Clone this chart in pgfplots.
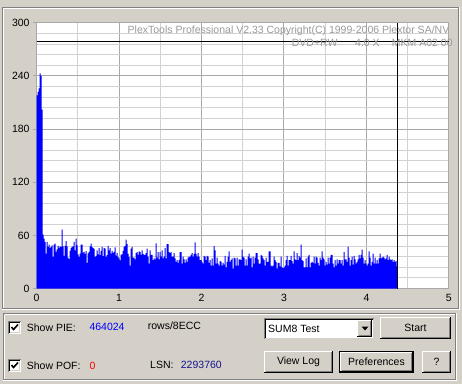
\documentclass[border=0pt]{standalone}
\usepackage{pgfplots}
\pgfplotsset{compat=1.18}
\usepackage{pgfplotstable}
\usepackage{fontspec}
\setmainfont{Liberation Sans}
\definecolor{winbg}{HTML}{D4D0C8}
\definecolor{wdark}{HTML}{808080}
\definecolor{majgrid}{HTML}{A8A8A8}
\definecolor{mingrid}{HTML}{D2D2D2}
\definecolor{wmark}{HTML}{9A9A9A}
\definecolor{navyblue}{HTML}{14148C}
\newcommand\wf{\fontsize{10.5}{12}\selectfont}
\newcommand\winbtn[4]{%
  \fill[winbg] (#1,#2) rectangle (#3,#4);
  \draw[white,line width=1pt] (#1+0.5,#2+1) -- (#1+0.5,#4-0.5) -- (#3-1,#4-0.5);
  \draw[black,line width=1pt] (#1,#2+0.5) -- (#3-0.5,#2+0.5) -- (#3-0.5,#4);
  \draw[wdark,line width=1pt] (#1+1.5,#2+1.5) -- (#3-1.5,#2+1.5) -- (#3-1.5,#4-1);
}
\newcommand\wincheck[2]{%
  \fill[white] (#1,#2) rectangle (#1+13,#2+13);
  \draw[wdark,line width=1pt] (#1+0.5,#2) -- (#1+0.5,#2+12.5) -- (#1+13,#2+12.5);
  \draw[black,line width=1pt] (#1+1.5,#2+1) -- (#1+1.5,#2+11.5) -- (#1+12,#2+11.5);
  \draw[winbg,line width=1pt] (#1+1.5,#2+1.5) -- (#1+11.5,#2+1.5) -- (#1+11.5,#2+11.5);
  \draw[black,line width=1.6pt] (#1+3.5,#2+7) -- (#1+5.5,#2+4.5) -- (#1+10,#2+9.5);
}
\pgfplotstableread[row sep=\\]{
y\\
218\\ 222\\ 226\\ 243\\ 240\\ 202\\
60.9\\ 56.4\\ 52.6\\ 39.5\\ 52.6\\ 47\\ 49.6\\ 45.8\\ 47\\ 48.8\\ 35.7\\ 49.6\\ 50.7\\ 41.3\\ 44.3\\ 48.1\\ 45.8\\ 47.7\\ 47\\ 66.5\\
47.7\\ 36.8\\ 48.1\\ 53.4\\ 47.7\\ 35\\ 33.1\\ 42.5\\ 45.8\\ 47\\ 47.7\\ 52.6\\ 43.2\\ 56.4\\ 48.8\\ 38.7\\ 35.7\\ 39.5\\ 49.6\\ 49.6\\
40.6\\ 41.3\\ 39.1\\ 42.1\\ 28.9\\ 39.8\\ 41.3\\ 47.7\\ 50.7\\ 47\\ 45.5\\ 44.7\\ 35.7\\ 36.8\\ 43.2\\ 38.7\\ 45.5\\ 37.6\\ 42.5\\ 47\\
36.5\\ 45.5\\ 45.1\\ 35.7\\ 37.6\\ 48.1\\ 43.2\\ 45.5\\ 39.5\\ 42.5\\ 40.2\\ 41.3\\ 46.6\\ 37.2\\ 40.2\\ 35.7\\ 33.8\\ 31.9\\ 38.3\\ 38.7\\
42.5\\ 47\\ 48.1\\ 55.2\\ 50\\ 39.5\\ 35.7\\
26\\ 45\\ 47\\ 35\\ 35\\ 33\\ 40\\ 41\\ 38\\ 42\\ 41\\ 38\\ 43\\ 39\\ 38\\ 38\\ 40\\ 45\\ 36\\ 28\\
43\\ 38\\ 38\\ 32\\ 34\\ 33\\ 51\\ 35\\ 41\\ 33\\ 41\\ 36\\ 43\\ 34\\ 36\\ 46\\ 34\\ 50\\ 50\\ 41\\
40\\ 41\\ 36\\ 36\\ 40\\ 34\\ 30\\ 32\\ 29\\ 32\\ 41\\ 41\\ 28\\ 36\\ 33\\ 29\\ 33\\ 30\\ 35\\ 36\\
36\\ 38\\ 40\\ 36\\ 39\\ 52\\ 39\\ 36\\ 40\\ 36\\ 32\\ 32\\ 30\\ 28\\ 37\\ 36\\ 32\\ 37\\ 36\\ 29\\
32\\ 26\\ 34\\ 26\\ 48\\ 43\\ 28\\ 35\\ 28\\ 26\\ 31\\ 30\\
26\\ 29\\ 27\\ 37\\ 24\\ 30\\ 36\\ 42\\ 30\\ 32\\ 34\\ 22.6\\ 35\\ 34\\ 26\\ 35\\ 26\\ 33\\ 33\\ 32\\
44\\ 36\\ 35\\ 26\\ 33\\ 26\\ 36\\ 39.5\\ 34\\ 35\\ 24\\ 36\\ 28\\ 35\\ 40\\ 40\\ 33\\ 28\\ 28\\ 38\\
37\\ 34\\ 32\\ 26\\ 35\\ 30\\ 30\\ 42\\ 42\\ 26\\ 25\\ 26\\ 36\\ 32\\ 30\\ 22.6\\ 29\\ 29\\ 25\\ 36\\
24\\ 23\\ 24\\ 26\\ 32\\ 37\\ 26\\ 32\\ 32\\ 37\\ 31\\ 28\\ 42\\ 33\\ 32\\ 40\\ 32\\ 37\\ 35\\ 49.6\\
32\\ 31\\ 24\\ 24\\ 34\\ 24\\ 36\\ 38\\ 24\\ 29\\ 30\\ 29\\
36\\ 28\\ 36\\ 35\\ 29\\ 26\\ 35\\ 32\\ 42\\ 35\\ 33\\ 26\\ 30\\ 27\\ 35\\ 28\\ 35\\ 38\\ 38\\ 28\\
24\\ 32\\ 26\\ 33\\ 28\\ 32\\ 32\\ 28\\ 32\\ 26\\ 41\\ 33\\ 33\\ 30\\ 47.4\\ 35\\ 26\\ 32\\ 36\\ 27\\
37\\ 33\\ 28\\ 30\\ 33\\ 38\\ 34\\ 38\\ 44\\ 35\\ 28\\ 32\\ 28\\ 26\\ 28\\ 42\\ 35\\ 26\\ 30\\ 39.5\\
28\\ 35\\ 28\\ 32\\ 28\\ 34\\ 39.5\\ 34\\ 35\\ 36\\ 35\\ 33\\ 34\\ 38\\ 32\\ 36\\ 33\\ 32\\ 33\\ 30\\
32\\ 30\\ 31\\ 25\\ 25\\
}\piedata
\begin{document}
\begin{tikzpicture}[x=1pt,y=1pt]
\useasboundingbox (0,0) rectangle (462,384);
\fill[winbg] (0,0) rectangle (462,384);
% chart group frame
\draw[wdark,line width=1pt] (2.5,376.5) rectangle (458.5,75.5);
\draw[white,line width=1pt] (3.5,375.5) -- (457.5,375.5);
\draw[white,line width=1pt] (3.5,375.5) -- (3.5,76.5);
\draw[white,line width=1pt] (459.5,377) -- (459.5,74.5) -- (2,74.5);
% bottom group frame
\draw[wdark,line width=1pt] (3.5,70.5) rectangle (455.5,4.5);
\draw[white,line width=1pt] (4.5,69.5) -- (454.5,69.5);
\draw[white,line width=1pt] (4.5,69.5) -- (4.5,5.5);
\draw[white,line width=1pt] (456.5,71) -- (456.5,3.5) -- (3,3.5);
\begin{axis}[
  at={(44.4,107.8)}, anchor=south west, scale only axis,
  width=412.3pt, height=265.7pt,
  xmin=0, xmax=5, ymin=0, ymax=300,
  xtick={0,1,2,3,4,5}, ytick={0,60,120,180,240,300},
  minor x tick num=1, minor y tick num=4,
  grid=both,
  major grid style={draw=majgrid, line width=1pt},
  minor grid style={draw=mingrid, line width=1pt},
  axis line style={draw=majgrid, line width=1pt},
  axis background/.style={fill=white},
  tick pos=left, tick align=outside,
  major tick length=3.5pt, minor tick length=0pt,
  xtick style={draw=none},
  ytick style={draw=majgrid, line width=1pt},
  ticklabel style={font=\wf, text=black},
  xticklabel style={yshift=1pt},
  /pgf/number format/assume math mode=true,
]
\addplot[fill=blue, draw=none, const plot mark left]
  table[x expr=\coordindex*0.01213, y=y] {\piedata} \closedcycle;
\addplot[black, line width=1pt] coordinates {(0,279.3) (5,279.3)};
\addplot[black, line width=1pt] coordinates {(4.373,0) (4.373,300)};
\end{axis}
% watermark texts
\node[anchor=east, text=wmark, font=\wf, inner sep=0pt] at (449.5,353) {PlexTools Professional V2.33 Copyright(C) 1999-2006 Plextor SA/NV};
\node[anchor=west, text=wmark, font=\wf, inner sep=0pt] at (291.7,341.5) {DVD+RW};
\node[anchor=west, text=wmark, font=\wf, inner sep=0pt] at (355,341.5) {4.0 X};
\node[anchor=west, text=wmark, font=\wf, inner sep=0pt] at (391.7,341.5) {MKM A02 00};
% controls
\wincheck{8}{50}
\wincheck{8}{12}
\node[anchor=west, font=\wf, inner sep=0pt] at (26.7,56.7) {Show PIE:};
\node[anchor=west, font=\wf, inner sep=0pt, text=blue] at (89.3,57) {464024};
\node[anchor=west, font=\wf, inner sep=0pt] at (147.7,58) {rows/8ECC};
\node[anchor=west, font=\wf, inner sep=0pt] at (26.7,18) {Show POF:};
\node[anchor=west, font=\wf, inner sep=0pt, text=red] at (89.3,18) {0};
\node[anchor=west, font=\wf, inner sep=0pt] at (150,19) {LSN:};
\node[anchor=west, font=\wf, inner sep=0pt, text=navyblue] at (180.7,19) {2293760};
% combobox
\fill[white] (264,45) rectangle (374,66);
\draw[wdark,line width=1pt] (264.5,45) -- (264.5,65.5) -- (374,65.5);
\draw[black,line width=1pt] (265.5,46) -- (265.5,64.5) -- (373,64.5);
\draw[winbg,line width=1pt] (265,45.5) -- (373.5,45.5) -- (373.5,65);
\winbtn{357}{47}{372}{64}
\fill[black] (361.5,57.5) -- (368.5,57.5) -- (365,53.5) -- cycle;
\node[anchor=west, font=\wf, inner sep=0pt] at (268,55) {SUM8 Test};
% buttons
\winbtn{380}{45}{451}{67}
\node[font=\wf, inner sep=0pt] at (415.5,56) {Start};
\winbtn{264}{11}{333}{33}
\node[font=\wf, inner sep=0pt] at (298.5,22.3) {View Log};
\draw[black,line width=1pt] (339.5,11.5) rectangle (413.5,32.5);
\winbtn{340}{12}{413}{32}
\node[font=\wf, inner sep=0pt] at (376.5,22.3) {Preferences};
\winbtn{422}{11}{451}{33}
\node[font=\wf, inner sep=0pt] at (436.5,22.3) {?};
\end{tikzpicture}
\end{document}
